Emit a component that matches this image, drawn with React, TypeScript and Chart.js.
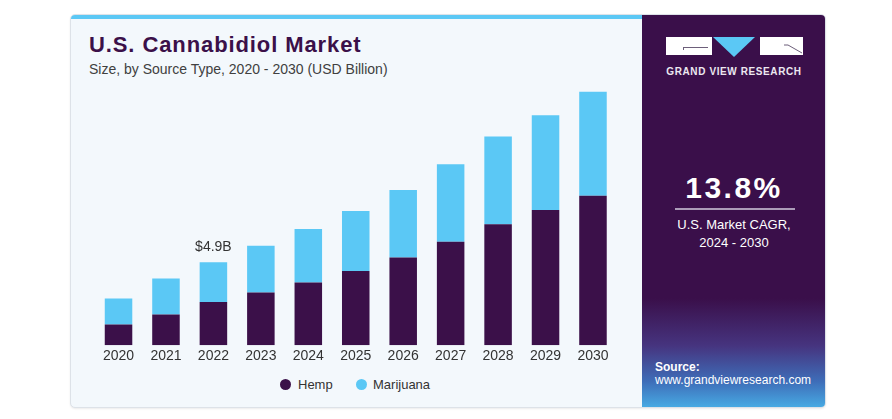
import React, { useEffect, useRef } from "react";
import { Chart, registerables } from "chart.js";

Chart.register(...registerables);

const years = ["2020", "2021", "2022", "2023", "2024", "2025", "2026", "2027", "2028", "2029", "2030"];
const hemp = [1.22, 1.82, 2.56, 3.12, 3.71, 4.38, 5.19, 6.12, 7.15, 7.99, 8.84];
const marijuana = [1.54, 2.12, 2.34, 2.76, 3.16, 3.56, 3.99, 4.58, 5.19, 5.61, 6.14];
const seriesNames = ["Hemp", "Marijuana"];
const seriesColors = ["#3b1049", "#5bc8f5"];
const annotatedIndex = 2;
const annotationText = "$4.9B";
const yMax = 16;

const FONT = "'Liberation Sans', Arial, Helvetica, sans-serif";

const annotationPlugin = {
  id: "valueAnnotation",
  afterDatasetsDraw(chart: any) {
    const meta = chart.getDatasetMeta(1);
    const el = meta.data[annotatedIndex];
    if (!el) return;
    const ctx = chart.ctx;
    ctx.save();
    ctx.font = `14px ${FONT}`;
    ctx.fillStyle = "#333333";
    ctx.textAlign = "center";
    ctx.textBaseline = "alphabetic";
    ctx.fillText(annotationText, el.x, el.y - 11);
    ctx.restore();
  },
};

function BarChart() {
  const ref = useRef<HTMLCanvasElement | null>(null);
  useEffect(() => {
    if (!ref.current) return;
    const chart = new Chart(ref.current, {
      type: "bar",
      data: {
        labels: years,
        datasets: [
          { label: seriesNames[0], data: hemp, backgroundColor: seriesColors[0], borderWidth: 0 },
          { label: seriesNames[1], data: marijuana, backgroundColor: seriesColors[1], borderWidth: 0 },
        ],
      },
      options: {
        responsive: true,
        maintainAspectRatio: false,
        animation: false,
        layout: { padding: { left: 24.8, right: 25.3, top: 14.6, bottom: 0 } },
        datasets: { bar: { categoryPercentage: 1, barPercentage: 0.58 } },
        plugins: { legend: { display: false }, tooltip: { enabled: false }, title: { display: false } },
        scales: {
          x: {
            stacked: true,
            grid: { display: false, drawTicks: false },
            border: { display: false },
            ticks: { color: "#333333", font: { family: FONT, size: 14 }, padding: 3, maxRotation: 0, autoSkip: false },
          },
          y: { stacked: true, display: false, min: 0, max: yMax },
        },
      },
      plugins: [annotationPlugin],
    } as any);
    return () => chart.destroy();
  }, []);
  return <canvas ref={ref} />;
}

export default function App() {
  const abs = (s: React.CSSProperties): React.CSSProperties => ({ position: "absolute", ...s });
  return (
    <div style={abs({ left: 0, top: 0, width: 892, height: 419, background: "#ffffff", fontFamily: FONT, overflow: "hidden" })}>
      {/* card */}
      <div
        style={abs({
          left: 70,
          top: 14,
          width: 756,
          height: 394,
          background: "#f3f8fc",
          border: "1px solid #dde2e8",
          borderRadius: 5,
          boxSizing: "border-box",
          overflow: "hidden",
          boxShadow: "0 1px 2px rgba(0,0,0,0.08)",
        })}
      >
        <div style={abs({ left: 0, top: 0, width: 572, height: 4, background: "#5bc8f5" })} />
        <div
          style={abs({
            left: 571,
            top: -1,
            width: 185,
            height: 395,
            background:
              "linear-gradient(to bottom, #3a0f4a 0%, #3a0f4a 72%, #46347f 84%, #3e6db8 93%, #48aee6 100%)",
          })}
        />
      </div>

      {/* title */}
      <div style={abs({ left: 89, top: 34, fontSize: 22, lineHeight: 1, fontWeight: 700, color: "#3b1049", letterSpacing: 0.9, whiteSpace: "nowrap" })}>
        U.S. Cannabidiol Market
      </div>
      <div style={abs({ left: 89, top: 61.5, fontSize: 14, lineHeight: 1, color: "#404040", whiteSpace: "nowrap" })}>
        Size, by Source Type, 2020 - 2030 (USD Billion)
      </div>

      {/* chart */}
      <div style={abs({ left: 70, top: 60, width: 572, height: 308 })}>
        <BarChart />
      </div>

      {/* legend */}
      {seriesNames.map((n, i) => (
        <div key={n} style={abs({ left: i === 0 ? 279.5 : 356, top: 376, height: 16, display: "flex", alignItems: "center", whiteSpace: "nowrap" })}>
          <span style={{ display: "inline-block", width: 11, height: 11, borderRadius: "50%", background: seriesColors[i], marginRight: i === 0 ? 7.5 : 6 }} />
          <span style={{ fontSize: 13, color: "#333333" }}>{n}</span>
        </div>
      ))}

      {/* logo */}
      <div style={abs({ left: 666, top: 37, width: 46, height: 18, background: "#ffffff" })}>
        <div style={abs({ left: 17, top: 10, width: 25, height: 1, background: "#6d5f7a" })} />
        <div style={abs({ left: 17, top: 10, width: 1, height: 3, background: "#6d5f7a" })} />
      </div>
      <svg style={abs({ left: 713, top: 37 })} width={42} height={20}>
        <polygon points="0,0 42,0 21,20" fill="#5bc8f5" />
      </svg>
      <div style={abs({ left: 760, top: 37, width: 43, height: 18, background: "#ffffff" })}>
        <svg style={abs({ left: 0, top: 0 })} width={43} height={18}>
          <line x1={24} y1={8} x2={28} y2={8} stroke="#6d5f7a" strokeWidth={1} />
          <line x1={28} y1={8} x2={42} y2={16} stroke="#6d5f7a" strokeWidth={1} />
        </svg>
      </div>
      <div style={abs({ left: 642, width: 184, top: 66, textAlign: "center", fontSize: 10, lineHeight: "12px", fontWeight: 700, color: "#ece8f0", letterSpacing: 0.6, whiteSpace: "nowrap" })}>
        GRAND VIEW RESEARCH
      </div>

      {/* CAGR */}
      <div style={abs({ left: 642, width: 184, top: 173, textAlign: "center", fontSize: 30, lineHeight: 1, fontWeight: 700, color: "#ffffff", letterSpacing: 2.5, whiteSpace: "nowrap" })}>
        13.8%
      </div>
      <div style={abs({ left: 675, top: 208, width: 120, height: 2, background: "#ab9cb8" })} />
      <div style={abs({ left: 642, width: 184, top: 215.5, textAlign: "center", fontSize: 13, lineHeight: "18.5px", color: "#ffffff", whiteSpace: "nowrap" })}>
        U.S. Market CAGR,
        <br />
        2024 - 2030
      </div>

      {/* source */}
      <div style={abs({ left: 655, top: 360.5, fontSize: 12, lineHeight: "13.5px", color: "#ffffff", whiteSpace: "nowrap" })}>
        <span style={{ fontWeight: 700 }}>Source:</span>
        <br />
        www.grandviewresearch.com
      </div>
    </div>
  );
}
